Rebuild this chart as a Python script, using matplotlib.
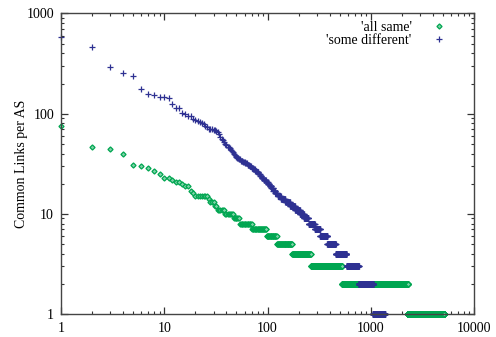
import numpy as np
import matplotlib
matplotlib.use("Agg")
import matplotlib.pyplot as plt
from matplotlib.ticker import LogLocator, NullFormatter, FixedLocator, FixedFormatter

# 'all same': top ranks listed one by one, then integer values with how many ASes share them
same_top = [75, 47, 44, 40, 31, 30, 29, 27, 25]
same_values = [23, 22, 21, 20, 19, 17, 16, 15, 14, 13, 12, 11, 10, 9, 8, 7, 6, 5, 4, 3, 2, 1]
same_counts = [2, 1, 2, 1, 2, 1, 1, 7, 1, 3, 2, 6, 8, 7, 17, 27, 25, 50, 90, 263, 1745, 2880]

# 'some different'
diff_top = [580, 460, 290, 252, 236, 176, 157, 153, 147, 146,
            145, 124, 115, 113, 101, 100, 95, 94, 89, 87,
            85, 83, 80, 78, 75, 73, 71, 70, 70, 69,
            68, 67, 65, 62, 59, 56, 54, 52, 50, 49,
            47, 46, 45, 43, 42, 41, 40, 39, 38, 37]
diff_values = [36, 35, 34, 33, 32, 31, 30, 29, 28, 27, 26, 25, 24, 23, 22, 21, 20, 19, 18, 17,
               16, 15, 14, 13, 12, 11, 10, 9, 8, 7, 6, 5, 4, 3, 2, 1]
diff_counts = [2, 2, 3, 3, 3, 3, 3, 3, 3, 3, 3, 3, 3, 4, 5, 4, 4, 4, 5, 5,
               6, 10, 14, 16, 20, 21, 19, 24, 37, 37, 56, 77, 125, 180, 290, 310]

labels = ["'all same'", "'some different'"]
x_ticks = [1, 10, 100, 1000, 10000]
y_ticks = [1, 10, 100, 1000]


def ranked(top, values, counts):
    y = np.concatenate([np.array(top, dtype=float), np.repeat(values, counts).astype(float)])
    x = np.arange(1, len(y) + 1)
    return x, y


plt.rcParams["font.family"] = ["Liberation Serif", "DejaVu Serif"]
plt.rcParams["font.size"] = 10

fig = plt.figure(figsize=(4.96, 3.37), dpi=100)
ax = fig.add_axes([0.123, 0.068, 0.833, 0.892])

green = "#00a651"
blue = "#2e3192"

x1, y1 = ranked(same_top, same_values, same_counts)
x2, y2 = ranked(diff_top, diff_values, diff_counts)
ax.plot(x1, y1, linestyle="none", marker="D", ms=2.6, mfc="#7fd3a8", mec=green, mew=0.9,
        color=green, label=labels[0], clip_on=False)
ax.plot(x2, y2, linestyle="none", marker="+", ms=4.5, mew=0.9, color=blue, label=labels[1],
        clip_on=False)

ax.set_xscale("log")
ax.set_yscale("log")
ax.set_xlim(1, 10000)
ax.set_ylim(1, 1000)

ax.xaxis.set_major_locator(FixedLocator(x_ticks))
ax.xaxis.set_major_formatter(FixedFormatter([str(t) for t in x_ticks]))
ax.yaxis.set_major_locator(FixedLocator(y_ticks))
ax.yaxis.set_major_formatter(FixedFormatter([str(t) for t in y_ticks]))
for axis in (ax.xaxis, ax.yaxis):
    axis.set_minor_locator(LogLocator(base=10, subs=np.arange(2, 10), numticks=20))
    axis.set_minor_formatter(NullFormatter())

ax.tick_params(which="both", direction="in", top=True, right=True, color="#333333")
ax.tick_params(which="major", length=5, width=0.9)
ax.tick_params(which="minor", length=2.5, width=0.8)
ax.tick_params(axis="x", pad=6)
ax.tick_params(axis="y", pad=5)
for s in ax.spines.values():
    s.set_color("#444444")
    s.set_linewidth(1.0)

ax.set_ylabel("Common Links per AS", labelpad=-1)

ax.legend(loc="upper right", bbox_to_anchor=(0.956, 0.975), frameon=False, markerfirst=False,
          numpoints=1, handlelength=2.4, handletextpad=0.8, labelspacing=0.0,
          borderaxespad=0, borderpad=0)

fig.savefig("out.png", dpi=100)
